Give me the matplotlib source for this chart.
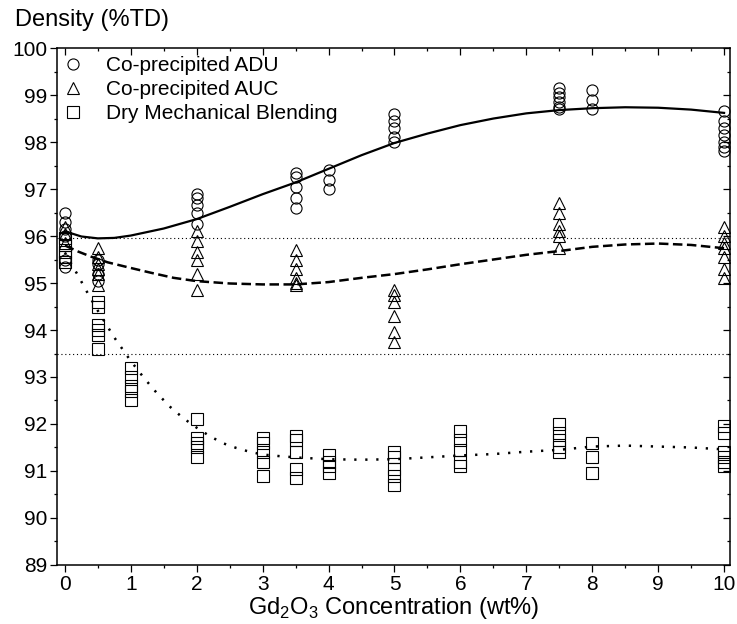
import matplotlib
matplotlib.use("Agg")
import matplotlib.pyplot as plt
from matplotlib.ticker import MultipleLocator

plt.rcParams["font.family"] = ["Liberation Sans", "DejaVu Sans"]
plt.rcParams["mathtext.fontset"] = "custom"
plt.rcParams["mathtext.rm"] = "Liberation Sans"

# measured densities (%TD) at each Gd2O3 content (wt%)
adu_conc = [0, 0.5, 2, 3.5, 4, 5, 7.5, 8, 10]
adu_vals = [[96.5, 96.3, 96.15, 96.0, 95.5, 95.35],
            [95.5, 95.4, 95.2, 95.05],
            [96.9, 96.8, 96.65, 96.5, 96.25],
            [97.35, 97.25, 97.05, 96.8, 96.6],
            [97.4, 97.2, 97.0],
            [98.6, 98.45, 98.3, 98.1, 98.0],
            [99.15, 99.05, 98.95, 98.85, 98.75, 98.7],
            [99.1, 98.9, 98.7],
            [98.65, 98.45, 98.3, 98.15, 98.0, 97.9, 97.8]]

auc_conc = [0, 0.5, 2, 3.5, 5, 7.5, 10]
auc_vals = [[96.2, 96.05, 95.85],
            [95.75, 95.55, 95.4, 95.3, 95.2, 94.95],
            [96.1, 95.9, 95.65, 95.5, 95.2, 94.85],
            [95.7, 95.5, 95.3, 95.1, 95.0, 94.95],
            [94.85, 94.75, 94.6, 94.3, 93.95, 93.75],
            [96.7, 96.5, 96.25, 96.1, 96.0, 95.75],
            [96.2, 96.0, 95.85, 95.75, 95.55, 95.3, 95.1]]

dmb_conc = [0, 0.5, 1, 2, 3, 3.5, 4, 5, 6, 7.5, 8, 10]
dmb_vals = [[95.95, 95.8, 95.65, 95.55, 95.45],
            [94.6, 94.5, 94.1, 94.0, 93.9, 93.6],
            [93.2, 93.0, 92.8, 92.7, 92.5],
            [92.1, 91.7, 91.6, 91.5, 91.3],
            [91.7, 91.6, 91.4, 91.2, 90.9],
            [91.75, 91.65, 91.4, 91.05, 90.85],
            [91.35, 91.2, 91.1, 90.95],
            [91.4, 91.3, 91.05, 90.9, 90.7],
            [91.85, 91.65, 91.45, 91.2, 91.1],
            [92.0, 91.8, 91.65, 91.5, 91.4],
            [91.6, 91.3, 90.95],
            [91.95, 91.8, 91.4, 91.3, 91.2, 91.1]]

# trend curves
adu_fit_x = [0, 0.25, 0.5, 0.75, 1, 1.5, 2, 2.5, 3, 3.5, 4, 4.5, 5, 5.5, 6, 6.5, 7, 7.5, 8, 8.5, 9, 9.5, 10]
adu_fit = [96.1, 95.99, 95.95, 95.96, 96.01, 96.16, 96.36, 96.62, 96.89, 97.14, 97.43, 97.72, 97.98,
           98.18, 98.36, 98.5, 98.61, 98.68, 98.72, 98.74, 98.73, 98.69, 98.62]
auc_fit_x = [0, 0.2, 0.4, 0.65, 1, 1.3, 1.65, 2, 2.5, 3, 3.5, 4, 4.5, 5, 5.5, 6, 6.5, 7, 7.5, 8, 8.5, 9, 9.5, 10]
auc_fit = [95.8, 95.67, 95.56, 95.44, 95.32, 95.22, 95.11, 95.04, 94.99, 94.97, 94.97, 95.02, 95.11, 95.19,
           95.29, 95.4, 95.5, 95.6, 95.68, 95.77, 95.82, 95.84, 95.81, 95.74]
dmb_fit_x = [0, 0.1, 0.2, 0.3, 0.4, 0.5, 0.6, 0.75, 0.9, 1, 1.2, 1.4, 1.6, 1.8, 2, 2.2, 2.4, 2.6, 2.8, 3,
             3.3, 3.6, 4, 4.5, 5, 5.5, 6, 6.5, 7, 7.5, 8, 8.5, 9, 9.5, 10]
dmb_fit = [95.65, 95.4, 95.16, 94.9, 94.65, 94.41, 94.18, 93.84, 93.54, 93.34, 92.98, 92.65, 92.36, 92.12,
           91.92, 91.74, 91.59, 91.49, 91.41, 91.35, 91.31, 91.28, 91.25, 91.24, 91.25, 91.29, 91.33,
           91.36, 91.41, 91.45, 91.52, 91.54, 91.52, 91.5, 91.46]

ref_levels = [95.95, 93.5]


def flatten(conc, vals):
    xs, ys = [], []
    for c, v in zip(conc, vals):
        xs += [c] * len(v)
        ys += v
    return xs, ys


fig = plt.figure(figsize=(7.37, 6.24), dpi=100)
ax = fig.add_axes([0.0773, 0.0946, 0.9132, 0.8284])

for lvl in ref_levels:
    ax.axhline(lvl, color="black", lw=0.8, ls=(0, (1, 2.5)), zorder=1)

ax.plot(adu_fit_x, adu_fit, color="black", lw=1.6, zorder=2)
ax.plot(auc_fit_x, auc_fit, color="black", lw=1.8, ls=(0, (3.8, 1.8)), zorder=2)
ax.plot(dmb_fit_x, dmb_fit, color="black", lw=1.8, ls=(0, (0.9, 3.5)), zorder=2)

mk = dict(ls="none", mfc="none", mec="black", mew=0.8, zorder=3)
x, y = flatten(adu_conc, adu_vals)
ax.plot(x, y, marker="o", ms=8, label="Co-precipited ADU", **mk)
x, y = flatten(auc_conc, auc_vals)
ax.plot(x, y, marker="^", ms=9, label="Co-precipited AUC", **mk)
x, y = flatten(dmb_conc, dmb_vals)
ax.plot(x, y, marker="s", ms=8, label="Dry Mechanical Blending", **mk)

ax.set_xlim(-0.12, 10.09)
ax.set_ylim(89, 100)
ax.xaxis.set_major_locator(MultipleLocator(1))
ax.xaxis.set_minor_locator(MultipleLocator(0.5))
ax.yaxis.set_major_locator(MultipleLocator(1))
ax.yaxis.set_minor_locator(MultipleLocator(0.5))
ax.tick_params(which="both", top=True, right=True, labelsize=15, width=0.9)
ax.tick_params(which="major", length=5, pad=2)
ax.tick_params(which="minor", length=2.5)
for sp in ax.spines.values():
    sp.set_linewidth(1.1)
# top and right ticks point inwards
for t in ax.xaxis.get_major_ticks() + ax.xaxis.get_minor_ticks():
    t.tick2line.set_marker(matplotlib.lines.TICKDOWN)
for t in ax.yaxis.get_major_ticks() + ax.yaxis.get_minor_ticks():
    t.tick2line.set_marker(matplotlib.lines.TICKLEFT)

ax.set_xlabel(r"Gd$_\mathregular{2}$O$_\mathregular{3}$ Concentration (wt%)", fontsize=17, labelpad=1)
fig.text(15 / 737, 1 - 20 / 624, "Density (%TD)", fontsize=17, ha="left", va="center")

ax.legend(loc="upper left", bbox_to_anchor=(0.008, 0.985), frameon=False, fontsize=15,
          handlelength=1.0, handletextpad=1.1, labelspacing=0.25, borderpad=0, borderaxespad=0)

fig.savefig("out.png", dpi=100)
